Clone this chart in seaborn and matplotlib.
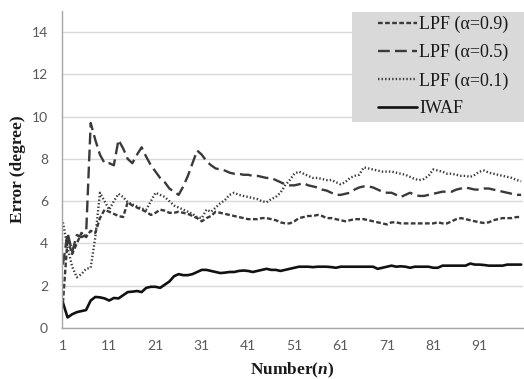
import pandas as pd
import matplotlib.pyplot as plt
from matplotlib.patches import Rectangle
import seaborn as sns

# sample index (n = 1 .. 100)
n_index = list(range(1, 101))

lpf_09 = [1.2, 4.2, 3.5, 4.0, 4.5, 4.3, 4.6, 4.5, 5.2, 5.6,
          5.5, 5.4, 5.3, 5.25, 5.95, 5.8, 5.7, 5.6, 5.5, 5.35,
          5.45, 5.6, 5.55, 5.45, 5.45, 5.5, 5.45, 5.4, 5.3, 5.2,
          5.05, 5.2, 5.3, 5.5, 5.45, 5.4, 5.35, 5.3, 5.25, 5.2,
          5.15, 5.15, 5.15, 5.2, 5.2, 5.15, 5.1, 5.0, 4.95, 4.95,
          5.05, 5.2, 5.25, 5.3, 5.3, 5.35, 5.3, 5.2, 5.2, 5.15,
          5.1, 5.05, 5.1, 5.15, 5.15, 5.15, 5.1, 5.05, 5.0, 4.95,
          4.9, 5.0, 5.0, 4.95, 4.95, 4.95, 4.95, 4.95, 4.95, 4.95,
          4.95, 5.0, 4.95, 4.95, 5.05, 5.15, 5.2, 5.15, 5.1, 5.05,
          5.0, 4.97, 5.0, 5.1, 5.15, 5.2, 5.2, 5.2, 5.25, 5.25]

lpf_05 = [3.0, 4.5, 3.6, 4.4, 4.3, 4.4, 9.7, 8.9, 8.2, 7.8,
          7.8, 7.7, 8.9, 8.5, 8.0, 7.8, 8.2, 8.55, 8.1, 7.7,
          7.4, 7.1, 6.9, 6.6, 6.45, 6.3, 6.7, 7.2, 7.8, 8.4,
          8.2, 7.9, 7.7, 7.55, 7.5, 7.45, 7.35, 7.3, 7.3, 7.25,
          7.25, 7.2, 7.2, 7.15, 7.1, 7.1, 7.0, 6.9, 6.8, 6.75,
          6.75, 6.8, 6.85, 6.75, 6.7, 6.65, 6.55, 6.5, 6.4, 6.3,
          6.3, 6.35, 6.4, 6.55, 6.65, 6.7, 6.7, 6.65, 6.55, 6.45,
          6.4, 6.4, 6.3, 6.2, 6.3, 6.4, 6.3, 6.25, 6.25, 6.3,
          6.35, 6.4, 6.45, 6.45, 6.45, 6.55, 6.6, 6.65, 6.6, 6.55,
          6.55, 6.6, 6.6, 6.55, 6.5, 6.45, 6.4, 6.35, 6.3, 6.3]

lpf_01 = [5.0, 3.8, 2.9, 2.4, 2.55, 2.8, 2.85, 4.3, 6.4, 6.0,
          5.6, 6.0, 6.35, 6.2, 5.95, 5.85, 5.75, 5.65, 5.6, 6.0,
          6.4, 6.3, 6.2, 6.0, 5.8, 5.7, 5.6, 5.5, 5.4, 5.25,
          5.2, 5.6, 5.5, 5.7, 5.9, 6.05, 6.3, 6.4, 6.3, 6.25,
          6.2, 6.15, 6.1, 6.0, 5.95, 6.1, 6.2, 6.4, 6.75, 7.0,
          7.3, 7.4, 7.3, 7.2, 7.1, 7.1, 7.05, 7.0, 7.0, 6.9,
          6.8, 6.9, 7.1, 7.2, 7.25, 7.6, 7.55, 7.5, 7.45, 7.4,
          7.4, 7.4, 7.35, 7.3, 7.25, 7.15, 7.05, 7.0, 7.05, 7.2,
          7.5, 7.45, 7.4, 7.3, 7.3, 7.25, 7.2, 7.2, 7.15, 7.25,
          7.4, 7.45, 7.35, 7.3, 7.25, 7.2, 7.15, 7.1, 7.0, 6.95]

iwaf = [1.2, 0.5, 0.65, 0.75, 0.8, 0.85, 1.3, 1.47, 1.45, 1.4,
        1.3, 1.42, 1.4, 1.55, 1.7, 1.72, 1.75, 1.7, 1.9, 1.95,
        1.95, 1.9, 2.05, 2.2, 2.45, 2.55, 2.5, 2.5, 2.55, 2.65,
        2.75, 2.75, 2.7, 2.65, 2.6, 2.62, 2.65, 2.65, 2.7, 2.72,
        2.7, 2.65, 2.7, 2.75, 2.8, 2.75, 2.75, 2.7, 2.75, 2.8,
        2.85, 2.9, 2.9, 2.9, 2.88, 2.9, 2.9, 2.9, 2.88, 2.85,
        2.9, 2.9, 2.9, 2.9, 2.9, 2.9, 2.9, 2.9, 2.8, 2.85,
        2.9, 2.95, 2.9, 2.92, 2.9, 2.85, 2.9, 2.9, 2.9, 2.9,
        2.85, 2.85, 2.95, 2.95, 2.95, 2.95, 2.95, 2.95, 3.05, 3.0,
        3.0, 2.98, 2.95, 2.95, 2.95, 2.95, 3.0, 3.0, 3.0, 3.0]

series_names = ["LPF (\u03b1=0.9)", "LPF (\u03b1=0.5)", "LPF (\u03b1=0.1)", "IWAF"]
x_ticks = [1, 11, 21, 31, 41, 51, 61, 71, 81, 91]
y_ticks = [0, 2, 4, 6, 8, 10, 12, 14]

df = pd.DataFrame({
    "Number": n_index,
    series_names[0]: lpf_09,
    series_names[1]: lpf_05,
    series_names[2]: lpf_01,
    series_names[3]: iwaf,
}).melt(id_vars="Number", var_name="Series", value_name="Error")

sns.set_theme(style="white")
plt.rcParams["mathtext.fontset"] = "custom"
plt.rcParams["mathtext.it"] = "Liberation Serif:italic:bold"

W, H = 524, 379
fig, ax = plt.subplots(figsize=(W / 100, H / 100), dpi=100)
fig.subplots_adjust(left=62 / W, right=523 / W, bottom=1 - 328 / H, top=1 - 11 / H)

palette = dict(zip(series_names, ["#3a3a3a", "#3a3a3a", "#3a3a3a", "#111111"]))
dashes = dict(zip(series_names, [(2, 1), (5, 2.2), (0.6, 0.9), ""]))

sns.lineplot(data=df, x="Number", y="Error", hue="Series", style="Series",
             palette=palette, dashes=dashes, linewidth=1.7, ax=ax)
for line in ax.lines:
    if line.get_linestyle() == "-":
        line.set_linewidth(1.9)

ax.set_xlim(0.8, 100.4)
ax.set_ylim(0, 15)
ax.set_xticks(x_ticks)
ax.set_yticks(y_ticks)
ax.yaxis.grid(True, color="#d9d9d9", linewidth=1.0)
ax.xaxis.grid(False)
for side in ["top", "right"]:
    ax.spines[side].set_visible(False)
for side in ["left", "bottom"]:
    ax.spines[side].set_color("#a6a6a6")
    ax.spines[side].set_linewidth(1.0)
ax.tick_params(axis="both", colors="#a6a6a6", length=4, width=1.0,
               labelcolor="#595959", labelsize=10, pad=5)
ax.tick_params(axis="y", pad=6)
for lab in ax.get_xticklabels() + ax.get_yticklabels():
    lab.set_family("Lato")

ax.set_xlabel("Number($n$)", family="Liberation Serif", fontweight="bold",
              fontsize=12.5, color="#1a1a1a", labelpad=6)
ax.set_ylabel("Error (degree)", family="Liberation Serif", fontweight="bold",
              fontsize=12.5, color="#1a1a1a", labelpad=4)

# grey legend panel (Excel-style, flush with the right edge)
ax.add_patch(Rectangle((352 / W, 1 - 122 / H), 172 / W, 110 / H,
                       transform=fig.transFigure, facecolor="#d9d9d9",
                       edgecolor="none", clip_on=False, zorder=4))

handles, labels = ax.get_legend_handles_labels()
leg = ax.legend(handles, labels, loc="upper left",
                bbox_to_anchor=(378 / W, 1 - 16 / H),
                bbox_transform=fig.transFigure, borderaxespad=0, borderpad=0,
                prop={"family": "Liberation Serif", "size": 13},
                handlelength=2.17, handletextpad=0.12, labelspacing=0.6,
                frameon=False)
leg.set_zorder(5)
for t in leg.get_texts():
    t.set_color("#1a1a1a")

fig.savefig("out.png", dpi=100)
